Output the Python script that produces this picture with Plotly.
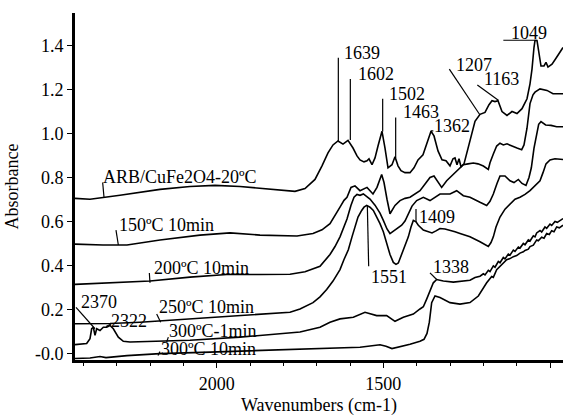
import plotly.graph_objects as go

# ---- data (wavenumber cm-1, absorbance) ----
wn_20 = [2425, 2380, 2290, 2170, 2080, 2005, 1930, 1840, 1765, 1735, 1705, 1684, 1666, 1651, 1636, 1621, 1606, 1591, 1579, 1570, 1558, 1549, 1543, 1534, 1525, 1516, 1504, 1495, 1486, 1474, 1465, 1456, 1447, 1435, 1420, 1408, 1396, 1381, 1369, 1357, 1348, 1336, 1324, 1312, 1300, 1291, 1285, 1279, 1273, 1267, 1258, 1249, 1240, 1225, 1210, 1195, 1183, 1174, 1165, 1156, 1144, 1129, 1114, 1099, 1084, 1069, 1060, 1054, 1048, 1045, 1039, 1033, 1027, 1018, 1012, 1006, 994, 982, 970, 961]
ab_20 = [0.705, 0.701, 0.719, 0.746, 0.759, 0.764, 0.759, 0.746, 0.737, 0.750, 0.791, 0.853, 0.912, 0.948, 0.966, 0.952, 0.969, 0.934, 0.898, 0.880, 0.871, 0.876, 0.885, 0.858, 0.889, 0.943, 1.010, 0.934, 0.844, 0.858, 0.894, 0.853, 0.831, 0.822, 0.822, 0.844, 0.880, 0.903, 0.956, 1.010, 0.989, 0.921, 0.880, 0.876, 0.853, 0.885, 0.889, 0.858, 0.885, 0.849, 0.862, 0.912, 0.970, 1.055, 1.087, 1.096, 1.131, 1.149, 1.145, 1.149, 1.100, 1.082, 1.100, 1.091, 1.113, 1.158, 1.226, 1.293, 1.392, 1.423, 1.423, 1.360, 1.307, 1.307, 1.324, 1.302, 1.315, 1.342, 1.369, 1.391]

wn_150 = [2425, 2341, 2269, 2170, 2050, 1960, 1870, 1759, 1711, 1684, 1660, 1645, 1630, 1618, 1609, 1597, 1585, 1570, 1558, 1549, 1531, 1519, 1505, 1498, 1489, 1480, 1465, 1450, 1435, 1420, 1390, 1372, 1360, 1348, 1336, 1325, 1310, 1290, 1270, 1260, 1246, 1230, 1216, 1200, 1185, 1180, 1170, 1160, 1150, 1140, 1129, 1114, 1099, 1085, 1078, 1069, 1060, 1051, 1045, 1030, 1018, 1009, 991, 961]
ab_150 = [0.497, 0.493, 0.493, 0.516, 0.538, 0.548, 0.538, 0.534, 0.545, 0.562, 0.590, 0.625, 0.665, 0.696, 0.710, 0.755, 0.762, 0.740, 0.750, 0.755, 0.725, 0.755, 0.814, 0.777, 0.701, 0.635, 0.673, 0.695, 0.705, 0.710, 0.740, 0.777, 0.800, 0.807, 0.777, 0.755, 0.785, 0.814, 0.844, 0.858, 0.862, 0.866, 0.862, 0.852, 0.837, 0.867, 0.907, 0.943, 0.956, 0.948, 0.953, 0.942, 0.934, 0.926, 0.948, 1.024, 1.136, 1.176, 1.188, 1.203, 1.199, 1.196, 1.181, 1.181]

wn_200 = [2425, 2320, 2200, 2080, 1970, 1870, 1780, 1735, 1690, 1660, 1645, 1630, 1618, 1609, 1597, 1588, 1579, 1570, 1560, 1549, 1540, 1525, 1510, 1500, 1489, 1480, 1465, 1445, 1435, 1425, 1414, 1400, 1380, 1360, 1345, 1330, 1300, 1280, 1260, 1240, 1210, 1190, 1180, 1170, 1159, 1150, 1135, 1120, 1108, 1095, 1084, 1072, 1063, 1056, 1048, 1040, 1034, 1027, 1013, 997, 980, 961]
ab_200 = [0.314, 0.320, 0.329, 0.347, 0.359, 0.359, 0.360, 0.371, 0.396, 0.450, 0.486, 0.530, 0.575, 0.611, 0.674, 0.710, 0.723, 0.719, 0.725, 0.714, 0.702, 0.674, 0.638, 0.605, 0.566, 0.545, 0.561, 0.583, 0.602, 0.635, 0.670, 0.695, 0.710, 0.695, 0.710, 0.725, 0.725, 0.740, 0.717, 0.710, 0.687, 0.673, 0.692, 0.725, 0.773, 0.807, 0.807, 0.785, 0.777, 0.791, 0.773, 0.764, 0.800, 0.844, 0.934, 1.001, 1.042, 1.054, 1.039, 1.037, 1.031, 1.031]

wn_250 = [2425, 2320, 2230, 2080, 1930, 1780, 1750, 1711, 1690, 1670, 1651, 1630, 1618, 1605, 1594, 1585, 1576, 1565, 1558, 1550, 1540, 1530, 1519, 1510, 1500, 1490, 1480, 1470, 1462, 1455, 1447, 1440, 1432, 1425, 1417, 1410, 1402, 1395, 1380, 1366, 1354, 1342, 1330, 1315, 1300, 1285, 1270, 1240, 1210, 1195, 1185, 1177, 1170, 1162, 1150, 1135, 1120, 1105, 1090, 1075, 1060, 1045, 1030, 1021, 1012, 1000, 985, 961]
ab_250 = [0.135, 0.136, 0.142, 0.157, 0.172, 0.187, 0.202, 0.231, 0.257, 0.291, 0.329, 0.381, 0.427, 0.471, 0.530, 0.575, 0.620, 0.650, 0.665, 0.673, 0.665, 0.650, 0.620, 0.590, 0.553, 0.500, 0.450, 0.414, 0.405, 0.411, 0.441, 0.471, 0.504, 0.530, 0.575, 0.605, 0.598, 0.583, 0.561, 0.553, 0.548, 0.557, 0.568, 0.566, 0.561, 0.553, 0.545, 0.530, 0.508, 0.495, 0.486, 0.504, 0.530, 0.575, 0.620, 0.656, 0.680, 0.701, 0.710, 0.723, 0.740, 0.764, 0.785, 0.822, 0.862, 0.880, 0.885, 0.882]

wn_300a = [2425, 2390, 2380, 2375, 2370, 2365, 2360, 2350, 2340, 2330, 2320, 2310, 2295, 2280, 2260, 2200, 2080, 1930, 1830, 1750, 1690, 1660, 1630, 1590, 1555, 1520, 1490, 1465, 1440, 1410, 1390, 1380, 1370, 1360, 1350, 1340, 1320, 1290, 1265, 1240, 1225, 1210, 1200, 1195, 1185, 1180, 1170, 1165, 1155, 1150, 1140, 1135, 1125, 1120, 1110, 1105, 1095, 1090, 1080, 1075, 1065, 1060, 1050, 1045, 1040, 1030, 1025, 1015, 1010, 1000, 995, 985, 978, 970, 961]
ab_300a = [0.040, 0.045, 0.067, 0.112, 0.119, 0.082, 0.112, 0.104, 0.119, 0.119, 0.127, 0.112, 0.074, 0.055, 0.052, 0.055, 0.060, 0.074, 0.085, 0.097, 0.119, 0.142, 0.157, 0.164, 0.187, 0.172, 0.172, 0.146, 0.164, 0.179, 0.202, 0.212, 0.247, 0.284, 0.321, 0.336, 0.329, 0.324, 0.330, 0.333, 0.345, 0.351, 0.362, 0.357, 0.378, 0.372, 0.398, 0.392, 0.418, 0.412, 0.436, 0.430, 0.452, 0.447, 0.470, 0.464, 0.484, 0.479, 0.500, 0.494, 0.516, 0.511, 0.535, 0.530, 0.548, 0.559, 0.552, 0.575, 0.569, 0.588, 0.582, 0.600, 0.596, 0.606, 0.613]

wn_300b = [2425, 2380, 2350, 2332, 2269, 2170, 2020, 1870, 1750, 1660, 1570, 1510, 1492, 1474, 1456, 1420, 1390, 1378, 1369, 1362, 1355, 1345, 1330, 1300, 1270, 1240, 1215, 1190, 1175, 1170, 1160, 1150, 1140, 1130, 1120, 1110, 1100, 1090, 1080, 1075, 1065, 1060, 1050, 1040, 1035, 1025, 1018, 1010, 1002, 995, 988, 980, 972, 961]
ab_300b = [-0.023, -0.021, -0.014, -0.019, -0.010, -0.001, 0.006, 0.013, 0.017, 0.022, 0.028, 0.039, 0.033, 0.022, 0.028, 0.042, 0.055, 0.064, 0.091, 0.142, 0.231, 0.261, 0.254, 0.231, 0.224, 0.231, 0.261, 0.321, 0.350, 0.346, 0.381, 0.395, 0.410, 0.426, 0.431, 0.440, 0.445, 0.456, 0.462, 0.468, 0.474, 0.486, 0.492, 0.516, 0.512, 0.528, 0.524, 0.545, 0.541, 0.558, 0.553, 0.575, 0.571, 0.583]

series = [(wn_20, ab_20), (wn_150, ab_150), (wn_200, ab_200),
          (wn_250, ab_250), (wn_300a, ab_300a), (wn_300b, ab_300b)]

# peak labels: text, label x (wn), label y (abs), leader line (x0, y0, x1, y1)
peak_text = ["1639", "1602", "1502", "1463", "1362", "1207", "1163", "1049",
             "1551", "1409", "1338", "2370", "2322"]
peak_lx = [1621, 1579, 1485, 1444, 1350, 1285, 1200, 1120, 1540, 1396, 1355, 2410, 2320]
peak_ly = [1.367, 1.270, 1.181, 1.096, 1.033, 1.313, 1.246, 1.457, 0.349, 0.620, 0.391, 0.235, 0.147]
peak_lines = [(1635, 0.965, 1635, 1.345), (1599, 0.971, 1599, 1.248),
              (1502, 1.009, 1502, 1.158), (1463, 0.889, 1463, 1.073),
              (1358, 1.012, 1350, 1.012), (1302, 1.293, 1210, 1.084),
              (1218, 1.221, 1155, 1.151), (1140, 1.424, 1040, 1.424),
              (1548, 0.673, 1544, 0.396), (1402, 0.657, 1402, 0.598),
              (1360, 0.366, 1340, 0.336), (2422, 0.209, 2365, 0.112),
              (2332, 0.122, 2317, 0.134)]

# curve labels
curve_text = ["ARB/CuFe2O4-20ºC", "150ºC 10min", "200ºC 10min",
              "250ºC 10min", "300ºC-1min", "300ºC 10min"]
curve_lx = [2345, 2295, 2190, 2175, 2145, 2170]
curve_ly = [0.804, 0.583, 0.388, 0.209, 0.100, 0.021]
curve_lines = [(2342, 0.777, 2338, 0.710), (2302, 0.561, 2295, 0.493),
               (2202, 0.366, 2200, 0.321), (2180, 0.179, 2168, 0.142),
               (2145, 0.074, 2150, 0.052), (2170, 0.008, 2176, -0.010)]

FONT = "Liberation Serif, Times New Roman, serif"

fig = go.Figure()
for wn, ab in series:
    fig.add_trace(go.Scatter(x=wn, y=ab, mode="lines",
                             line=dict(color="black", width=1.6),
                             showlegend=False, hoverinfo="skip"))

for (x0, y0, x1, y1) in peak_lines + curve_lines:
    fig.add_shape(type="line", x0=x0, y0=y0, x1=x1, y1=y1, xref="x", yref="y",
                  line=dict(color="black", width=1.2))

for t, x, y in zip(peak_text + curve_text, peak_lx + curve_lx, peak_ly + curve_ly):
    fig.add_annotation(x=x, y=y, xref="x", yref="y", text=t, showarrow=False,
                       xanchor="left", yanchor="middle", borderpad=0,
                       font=dict(family=FONT, size=18, color="black"))

fig.update_layout(
    width=563, height=416,
    margin=dict(l=75, r=0, t=13, b=51),
    paper_bgcolor="white", plot_bgcolor="white",
    font=dict(family=FONT, size=18, color="black"),
    xaxis=dict(range=[2425, 961], showgrid=False, zeroline=False,
               showline=True, linewidth=3, linecolor="black",
               ticks="outside", ticklen=5, tickwidth=1, tickcolor="black",
               tickvals=[2000, 1500, 1000], ticktext=["2000", "1500", ""],
               minor=dict(ticks="outside", ticklen=3, tickwidth=1,
                          tickcolor="black", dtick=100, tick0=0),
               title=dict(text="Wavenumbers (cm-1)", standoff=10,
                          font=dict(family=FONT, size=18))),
    yaxis=dict(range=[-0.030, 1.548], showgrid=False, zeroline=False,
               showline=True, linewidth=3, linecolor="black",
               ticks="outside", ticklen=5, tickwidth=1, tickcolor="black",
               tickvals=[0, 0.2, 0.4, 0.6, 0.8, 1.0, 1.2, 1.4],
               ticktext=["-0.0", "0.2", "0.4", "0.6", "0.8", "1.0", "1.2", "1.4"],
               title=dict(text="Absorbance", standoff=12,
                          font=dict(family=FONT, size=18))),
)

fig.write_html("out.html")
